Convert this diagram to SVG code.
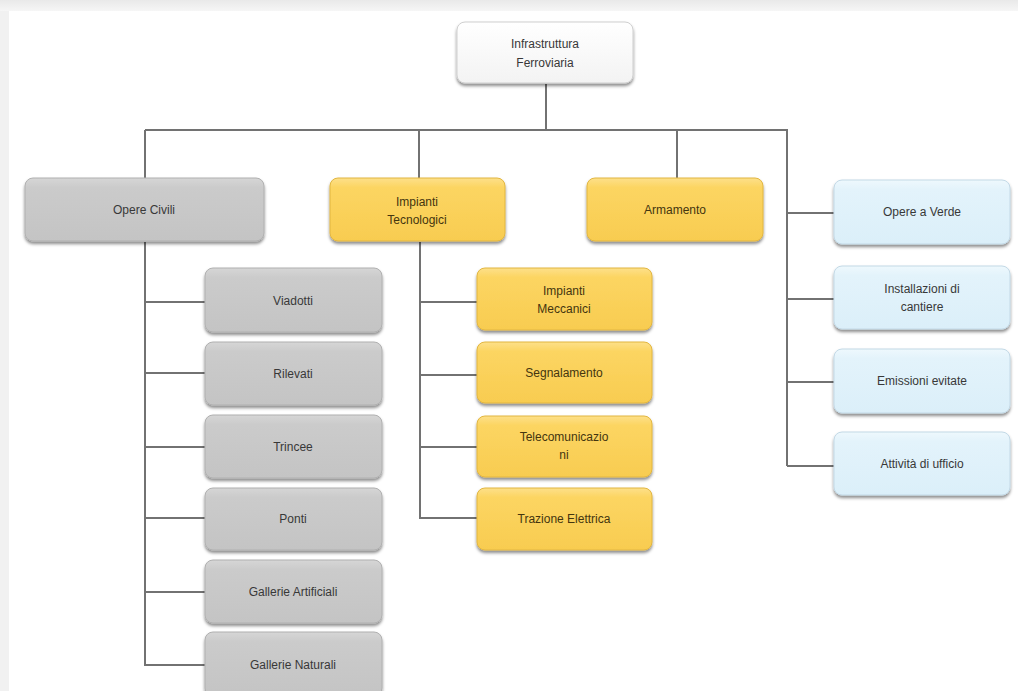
<svg xmlns="http://www.w3.org/2000/svg" width="1018" height="691" viewBox="0 0 1018 691">
<defs>
<linearGradient id="gGray" x1="0" y1="0" x2="0" y2="1"><stop offset="0" stop-color="#d6d6d6"/><stop offset="0.15" stop-color="#cbcbcb"/><stop offset="1" stop-color="#c4c4c4"/></linearGradient>
<linearGradient id="gYel" x1="0" y1="0" x2="0" y2="1"><stop offset="0" stop-color="#fde08a"/><stop offset="0.15" stop-color="#fcd562"/><stop offset="1" stop-color="#f8cc50"/></linearGradient>
<linearGradient id="gBlue" x1="0" y1="0" x2="0" y2="1"><stop offset="0" stop-color="#eef8fd"/><stop offset="0.15" stop-color="#e3f3fb"/><stop offset="1" stop-color="#dbeff9"/></linearGradient>
<linearGradient id="gWhite" x1="0" y1="0" x2="0" y2="1"><stop offset="0" stop-color="#ffffff"/><stop offset="1" stop-color="#f3f3f3"/></linearGradient>
<linearGradient id="gTop" x1="0" y1="0" x2="0" y2="1"><stop offset="0" stop-color="#e9e9e9"/><stop offset="1" stop-color="#f6f6f6"/></linearGradient>
<filter id="sh" x="-10%" y="-10%" width="120%" height="135%"><feDropShadow dx="0" dy="2.5" stdDeviation="1.8" flood-color="#000" flood-opacity="0.45"/></filter>
</defs>
<style>
.box{stroke-width:1;filter:url(#sh)}
.gray{fill:url(#gGray);stroke:#b0b0b0}
.yel{fill:url(#gYel);stroke:#e2b640}
.blue{fill:url(#gBlue);stroke:#c3d9e6}
.white{fill:url(#gWhite);stroke:#cfcfcf}
text{font-family:"Liberation Sans",Arial,sans-serif;font-size:12px;text-anchor:middle;fill:#383838}
.yt{fill:#44350f}
.conn{fill:none;stroke:#727272;stroke-width:2}
</style>
<rect x="0" y="0" width="1018" height="691" fill="#f1f1f1"/>
<rect x="0" y="0" width="1018" height="11" fill="url(#gTop)"/>
<rect x="9" y="11" width="1009" height="680" fill="#ffffff"/>
<g id="connectors" class="conn">
<path d="M546 84V130"/>
<path d="M145 130H787V466"/>
<path d="M145 130V178"/>
<path d="M419 130V178"/>
<path d="M677 130V178"/>
<path d="M787 213H834M787 299H834M787 382H834M787 466H834"/>
<path d="M145 242V665H205M145 302H205M145 373H205M145 447H205M145 518H205M145 592H205"/>
<path d="M420 242V518H477M420 302H477M420 375H477M420 447H477"/>
</g>
<g id="n_root"><rect class="box white" x="457" y="22" width="176" height="61" rx="8"/><text x="545" y="48">Infrastruttura</text><text x="545" y="67">Ferroviaria</text></g>
<g id="n_civili"><rect class="box gray" x="25" y="178" width="239" height="63" rx="8"/><text x="144" y="214">Opere Civili</text></g>
<g id="n_impianti"><rect class="box yel" x="330" y="178" width="175" height="63" rx="8"/><text class="yt" x="417" y="206">Impianti</text><text class="yt" x="417" y="224">Tecnologici</text></g>
<g id="n_armamento"><rect class="box yel" x="587" y="178" width="176" height="63" rx="8"/><text class="yt" x="675" y="214">Armamento</text></g>
<g id="n_verde"><rect class="box blue" x="834" y="180" width="176" height="64" rx="8"/><text x="922" y="216">Opere a Verde</text></g>
<g id="n_install"><rect class="box blue" x="834" y="266" width="176" height="63" rx="8"/><text x="922" y="293">Installazioni di</text><text x="922" y="311">cantiere</text></g>
<g id="n_emiss"><rect class="box blue" x="834" y="349" width="176" height="64" rx="8"/><text x="922" y="385">Emissioni evitate</text></g>
<g id="n_uff"><rect class="box blue" x="834" y="432" width="176" height="63" rx="8"/><text x="922" y="468">Attività di ufficio</text></g>
<g id="n_viadotti"><rect class="box gray" x="205" y="268" width="177" height="64" rx="8"/><text x="293" y="305">Viadotti</text></g>
<g id="n_rilevati"><rect class="box gray" x="205" y="342" width="177" height="63" rx="8"/><text x="293" y="378">Rilevati</text></g>
<g id="n_trincee"><rect class="box gray" x="205" y="415" width="177" height="63" rx="8"/><text x="293" y="451">Trincee</text></g>
<g id="n_ponti"><rect class="box gray" x="205" y="488" width="177" height="62" rx="8"/><text x="293" y="523">Ponti</text></g>
<g id="n_gart"><rect class="box gray" x="205" y="560" width="177" height="63" rx="8"/><text x="293" y="596">Gallerie Artificiali</text></g>
<g id="n_gnat"><rect class="box gray" x="205" y="632" width="177" height="64" rx="8"/><text x="293" y="669">Gallerie Naturali</text></g>
<g id="n_mecc"><rect class="box yel" x="477" y="268" width="175" height="62" rx="8"/><text class="yt" x="564" y="295">Impianti</text><text class="yt" x="564" y="313">Meccanici</text></g>
<g id="n_segn"><rect class="box yel" x="477" y="342" width="175" height="61" rx="8"/><text class="yt" x="564" y="377">Segnalamento</text></g>
<g id="n_tele"><rect class="box yel" x="477" y="416" width="175" height="61" rx="8"/><text class="yt" x="564" y="441">Telecomunicazio</text><text class="yt" x="564" y="459">ni</text></g>
<g id="n_traz"><rect class="box yel" x="477" y="488" width="175" height="62" rx="8"/><text class="yt" x="564" y="523">Trazione Elettrica</text></g>
</svg>
